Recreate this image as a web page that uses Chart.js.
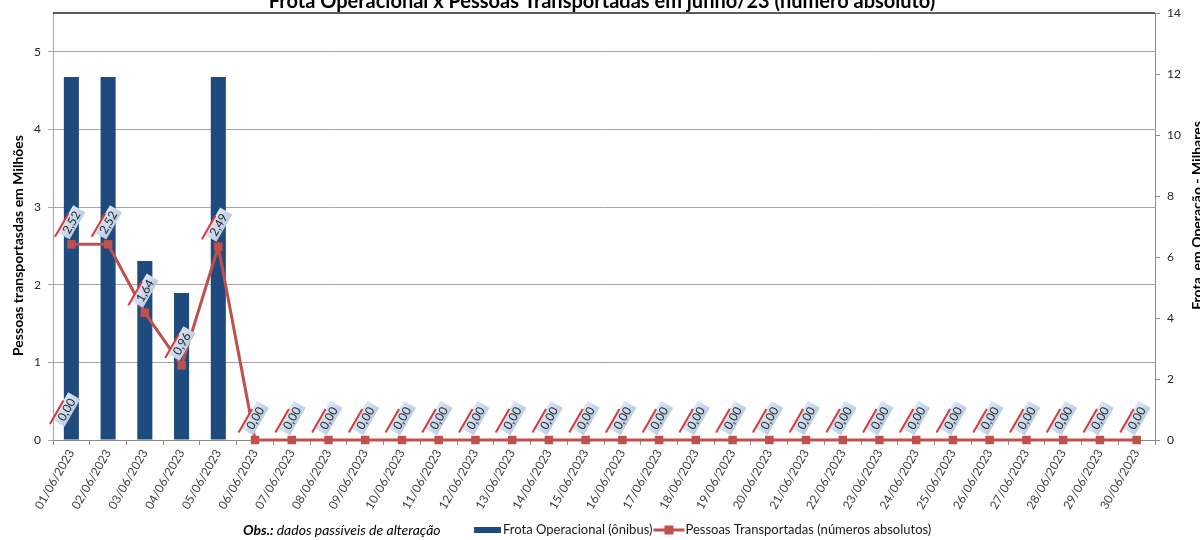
<!DOCTYPE html>
<html>
<head>
<meta charset="utf-8">
<script src="https://cdn.jsdelivr.net/npm/chart.js@4.4.1/dist/chart.umd.min.js"></script>
<style>
    html, body { margin: 0; padding: 0; background: #fff; overflow: hidden; width: 1200px; height: 540px; }
    .chart-container { position: absolute; left: 0; top: -10px; width: 1204px; height: 550px; }
</style>
</head>
<body>
<div class="chart-container"><canvas id="frota"></canvas></div>
<script>
const dias = ['01/06/2023', '02/06/2023', '03/06/2023', '04/06/2023', '05/06/2023', '06/06/2023',
    '07/06/2023', '08/06/2023', '09/06/2023', '10/06/2023', '11/06/2023', '12/06/2023',
    '13/06/2023', '14/06/2023', '15/06/2023', '16/06/2023', '17/06/2023', '18/06/2023',
    '19/06/2023', '20/06/2023', '21/06/2023', '22/06/2023', '23/06/2023', '24/06/2023',
    '25/06/2023', '26/06/2023', '27/06/2023', '28/06/2023', '29/06/2023', '30/06/2023'];

// frota em operação (milhares de ônibus) - eixo direito
const frota = [11.9, 11.9, 5.87, 4.82, 11.9, 0, 0, 0, 0, 0, 0, 0, 0, 0, 0,
    0, 0, 0, 0, 0, 0, 0, 0, 0, 0, 0, 0, 0, 0, 0];

// pessoas transportadas (milhões) - eixo esquerdo
const pessoas = [2.52, 2.52, 1.64, 0.96, 2.49, 0, 0, 0, 0, 0, 0, 0, 0, 0, 0,
    0, 0, 0, 0, 0, 0, 0, 0, 0, 0, 0, 0, 0, 0, 0];

// rótulo que aparece só na primeira barra
const rotulosFrota = ['0,00'];

const ticksPessoas = [0, 1, 2, 3, 4, 5];
const ticksFrota = [0, 2, 4, 6, 8, 10, 12, 14];

const fonte = 'Lato, "Open Sans", sans-serif';

function etiqueta(ctx, x, y, texto) {
    ctx.save();
    ctx.translate(x, y);
    ctx.rotate(-Math.PI / 3);
    ctx.font = '12px ' + fonte;
    const w = ctx.measureText(texto).width + 8;
    const h = 14;
    const g = ctx.createLinearGradient(0, -h / 2, 0, h / 2);
    g.addColorStop(0, '#dce6f2');
    g.addColorStop(1, '#b9cde5');
    ctx.fillStyle = g;
    ctx.fillRect(-w / 2, -h / 2, w, h);
    ctx.strokeStyle = '#d63a3a';
    ctx.lineWidth = 2;
    ctx.beginPath();
    ctx.moveTo(-w / 2 - 5, -h / 2);
    ctx.lineTo(w * 0.2, -h / 2);
    ctx.stroke();
    ctx.fillStyle = '#262626';
    ctx.textAlign = 'center';
    ctx.textBaseline = 'middle';
    ctx.fillText(texto, 0, 0.5);
    ctx.restore();
}

const extras = {
    id: 'extras',
    afterDatasetsDraw(chart) {
        const ctx = chart.ctx;
        const area = chart.chartArea;

        // borda superior da área do gráfico
        ctx.save();
        ctx.strokeStyle = '#262626';
        ctx.lineWidth = 1.5;
        ctx.beginPath();
        ctx.moveTo(area.left, area.top);
        ctx.lineTo(area.right, area.top);
        ctx.stroke();
        ctx.restore();

        // rótulos da linha
        const metaLinha = chart.getDatasetMeta(1);
        metaLinha.data.forEach((p, i) => {
            etiqueta(ctx, p.x, p.y - 22, pessoas[i].toFixed(2).replace('.', ','));
        });

        // rótulo da barra
        const metaBarra = chart.getDatasetMeta(0);
        rotulosFrota.forEach((t, i) => {
            const b = metaBarra.data[i];
            etiqueta(ctx, b.x - 5, b.base - 30, t);
        });
    },
    afterDraw(chart) {
        const ctx = chart.ctx;
        const area = chart.chartArea;
        const meio = (area.top + area.bottom) / 2;

        // títulos dos eixos
        ctx.save();
        ctx.fillStyle = '#000';
        ctx.font = 'bold 14px ' + fonte;
        ctx.textAlign = 'center';
        ctx.textBaseline = 'middle';
        ctx.translate(18, meio + 19);
        ctx.rotate(-Math.PI / 2);
        ctx.fillText('Pessoas transportasdas em Milhões', 0, 0);
        ctx.restore();

        ctx.save();
        ctx.fillStyle = '#000';
        ctx.font = 'bold 14px ' + fonte;
        ctx.textAlign = 'center';
        ctx.textBaseline = 'middle';
        ctx.translate(1197, meio - 11);
        ctx.rotate(-Math.PI / 2);
        ctx.fillText('Frota  em Operação - Milhares', 0, 0);
        ctx.restore();

        // observação + legenda
        const y = 540;
        ctx.save();
        ctx.textBaseline = 'middle';
        ctx.fillStyle = '#000';
        let x = 243;
        ctx.font = 'italic bold 14px ' + fonte;
        ctx.fillText('Obs.:', x, y);
        x += ctx.measureText('Obs.: ').width;
        ctx.font = 'italic 14px ' + fonte;
        ctx.fillText('dados passíveis de alteração', x, y);

        const ds = chart.data.datasets;
        x = 474;
        ctx.fillStyle = ds[0].backgroundColor;
        ctx.fillRect(x, y - 3, 27, 6);
        x += 29;
        ctx.fillStyle = '#1a1a1a';
        ctx.font = '13px ' + fonte;
        ctx.fillText(ds[0].label, x, y);
        x += ctx.measureText(ds[0].label).width + 1;
        ctx.strokeStyle = ds[1].borderColor;
        ctx.lineWidth = 3;
        ctx.beginPath();
        ctx.moveTo(x, y);
        ctx.lineTo(x + 31, y);
        ctx.stroke();
        ctx.fillStyle = ds[1].borderColor;
        ctx.fillRect(x + 11, y - 4.5, 9, 9);
        x += 32;
        ctx.fillStyle = '#1a1a1a';
        ctx.fillText(ds[1].label, x, y);
        ctx.restore();
    }
};

const ctx = document.getElementById('frota').getContext('2d');

const myChart = new Chart(ctx, {
    data: {
        labels: dias,
        datasets: [{
            type: 'bar',
            label: 'Frota Operacional (ônibus)',
            data: frota,
            yAxisID: 'y1',
            backgroundColor: '#1f4a7e',
            categoryPercentage: 1,
            barPercentage: 0.41,
            order: 2,
        }, {
            type: 'line',
            label: 'Pessoas Transportadas (números absolutos)',
            data: pessoas,
            yAxisID: 'y',
            borderColor: '#c0504d',
            backgroundColor: '#c0504d',
            borderWidth: 3,
            pointStyle: 'rect',
            pointRadius: 6,
            pointBorderWidth: 0,
            lineTension: 0,
            clip: false,
            order: 1,
        }]
    },
    options: {
        responsive: true,
        maintainAspectRatio: false,
        animation: false,
        layout: {
            padding: { top: 0, bottom: 30, left: 0, right: 0 }
        },
        plugins: {
            legend: { display: false },
            tooltip: { enabled: false },
            title: {
                display: true,
                text: 'Frota Operacional x Pessoas Transportadas em junho/23 (número absoluto)',
                color: '#000',
                font: { family: fonte, size: 20, weight: 'bold', lineHeight: 1.15 },
                padding: { top: 0, bottom: 0 },
            }
        },
        scales: {
            x: {
                afterFit: function (scale) { scale.height = 70; },
                ticks: {
                    color: '#404040',
                    font: { family: fonte, size: 12 },
                    minRotation: 60,
                    maxRotation: 60,
                    autoSkip: false,
                    padding: 2,
                },
                grid: {
                    drawOnChartArea: false,
                    color: '#8c8c8c',
                    tickLength: 5,
                },
                border: { color: '#8c8c8c' },
            },
            y: {
                position: 'left',
                min: 0,
                max: 5.5,
                afterFit: function (scale) { scale.width = 53; },
                afterBuildTicks: function (scale) {
                    scale.ticks = ticksPessoas.map(v => ({ value: v }));
                },
                ticks: {
                    color: '#262626',
                    font: { family: fonte, size: 12 },
                    padding: 7,
                },
                grid: {
                    color: '#a6a6a6',
                    tickLength: 5,
                },
                border: { color: '#a6a6a6' },
            },
            y1: {
                position: 'right',
                min: 0,
                max: 14,
                afterFit: function (scale) { scale.width = 49; },
                afterBuildTicks: function (scale) {
                    scale.ticks = ticksFrota.map(v => ({ value: v }));
                },
                ticks: {
                    color: '#262626',
                    font: { family: fonte, size: 12 },
                    padding: 7,
                },
                grid: {
                    drawOnChartArea: false,
                    color: '#8c8c8c',
                    tickLength: 5,
                },
                border: { color: '#8c8c8c' },
            }
        }
    },
    plugins: [extras]
});
</script>
</body>
</html>
